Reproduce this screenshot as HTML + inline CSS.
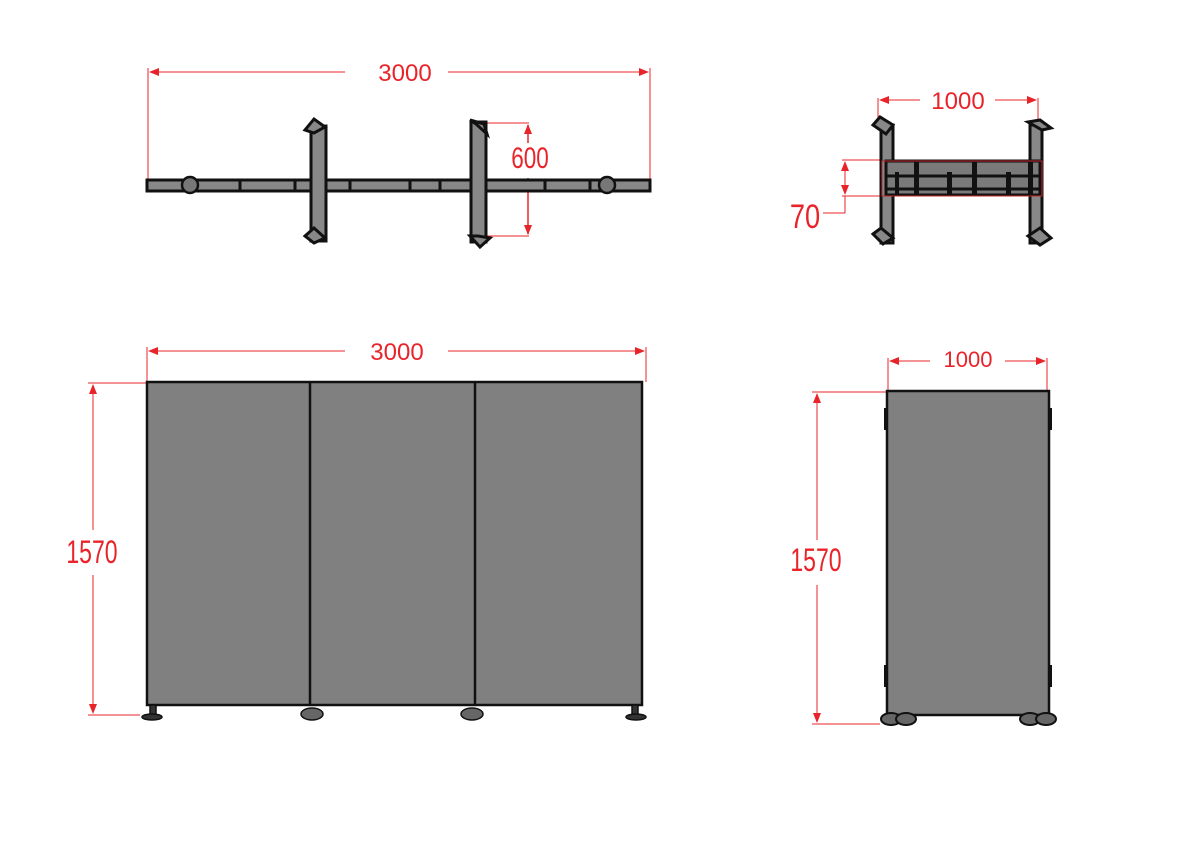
<!DOCTYPE html>
<html><head><style>html,body{margin:0;padding:0;background:#fff;}svg{display:block}</style></head>
<body>
<svg width="1191" height="842" viewBox="0 0 1191 842" xmlns="http://www.w3.org/2000/svg" font-family="Liberation Sans, sans-serif">
<defs>
<marker id="a" markerWidth="10" markerHeight="8" refX="9" refY="4" orient="auto" markerUnits="userSpaceOnUse"><path d="M0,0 L10,4 L0,8 z" fill="#e8242a"/></marker>
</defs>
<!-- TOP LEFT -->
<g stroke="#e8242a" stroke-width="1" fill="none">
<line x1="148" y1="68" x2="148" y2="180"/><line x1="650" y1="68" x2="650" y2="182"/>
<line x1="345" y1="72" x2="150" y2="72" marker-end="url(#a)"/>
<line x1="448" y1="72" x2="648" y2="72" marker-end="url(#a)"/>
<line x1="480" y1="123" x2="529" y2="123"/><line x1="480" y1="236" x2="529" y2="236"/>
<line x1="528" y1="143" x2="528" y2="125" marker-end="url(#a)" stroke-width="1.5"/>
<line x1="528" y1="178" x2="528" y2="234" marker-end="url(#a)" stroke-width="1.5"/>
</g>
<text x="405" y="81" fill="#e8242a" font-size="24" text-anchor="middle">3000</text>
<text x="530" y="168" fill="#e8242a" font-size="30" text-anchor="middle" transform="translate(530 0) scale(0.75 1) translate(-530 0)">600</text>
<rect x="147" y="180" width="503" height="11" fill="#888" stroke="#111" stroke-width="3"/>
<g stroke="#111" stroke-width="3"><line x1="240" y1="180" x2="240" y2="191"/><line x1="295" y1="180" x2="295" y2="191"/><line x1="350" y1="180" x2="350" y2="191"/><line x1="410" y1="180" x2="410" y2="191"/><line x1="440" y1="180" x2="440" y2="191"/><line x1="545" y1="180" x2="545" y2="191"/><line x1="590" y1="180" x2="590" y2="191"/></g>
<ellipse cx="190" cy="185" rx="8" ry="8" fill="#777" stroke="#111" stroke-width="2.5"/>
<ellipse cx="607" cy="185" rx="8" ry="8" fill="#777" stroke="#111" stroke-width="2.5"/>
<g fill="#888" stroke="#111" stroke-width="3">
<rect x="311" y="126" width="15" height="115"/>
<path d="M305,130 L314,119 L325,127 L314,133z"/><path d="M305,236 L314,228 L325,238 L314,243z"/>
<rect x="471" y="122" width="15" height="120"/>
<path d="M470,120 L484,124 L487,134 L476,124z"/><path d="M470,236 L480,247 L490,238 L478,236z"/>
</g>
<!-- TOP RIGHT -->
<g stroke="#e8242a" stroke-width="1" fill="none">
<line x1="878" y1="98" x2="878" y2="125"/><line x1="1038" y1="98" x2="1038" y2="125"/>
<line x1="920" y1="100" x2="880" y2="100" marker-end="url(#a)"/>
<line x1="995" y1="100" x2="1036" y2="100" marker-end="url(#a)"/>
<line x1="842" y1="160" x2="1043" y2="160"/><line x1="842" y1="196" x2="1043" y2="196"/>
<line x1="845" y1="178" x2="845" y2="162" marker-end="url(#a)"/>
<line x1="845" y1="178" x2="845" y2="194" marker-end="url(#a)"/>
<line x1="845" y1="196" x2="845" y2="213"/><line x1="823" y1="213" x2="845" y2="213"/>
</g>
<text x="958" y="109" fill="#e8242a" font-size="24" text-anchor="middle">1000</text>
<text x="805" y="228" fill="#e8242a" font-size="34" text-anchor="middle" transform="translate(805 0) scale(0.8 1) translate(-805 0)">70</text>
<g fill="#888" stroke="#111" stroke-width="3">
<rect x="881" y="125" width="12" height="118"/>
<path d="M873,125 L880,117 L893,125 L886,134z"/><path d="M873,234 L881,228 L893,238 L883,244z"/>
<rect x="1030" y="125" width="12" height="118"/>
<path d="M1028,122 L1040,120 L1051,128 L1042,130z"/><path d="M1028,236 L1040,228 L1051,238 L1040,245z"/>
<rect x="886" y="161" width="154" height="34" fill="#7a7a7a"/>
<line x1="886" y1="176" x2="1040" y2="176"/><line x1="886" y1="189" x2="1040" y2="189"/>
</g>
<g fill="#111"><rect x="914" y="160" width="5" height="35"/><rect x="972" y="160" width="5" height="35"/><rect x="1028" y="160" width="5" height="35"/><rect x="947" y="172" width="5" height="22"/><rect x="895" y="172" width="4" height="22"/><rect x="1006" y="172" width="5" height="22"/></g>
<rect x="882" y="161" width="160" height="35" fill="none" stroke="#c0282a" stroke-width="1"/>
<!-- BOTTOM LEFT -->
<g stroke="#e8242a" stroke-width="1" fill="none">
<line x1="147" y1="347" x2="147" y2="382"/><line x1="646" y1="347" x2="646" y2="382"/>
<line x1="345" y1="351" x2="149" y2="351" marker-end="url(#a)"/>
<line x1="448" y1="351" x2="644" y2="351" marker-end="url(#a)"/>
<line x1="88" y1="383" x2="147" y2="383"/><line x1="88" y1="715" x2="140" y2="715"/>
<line x1="93" y1="530" x2="93" y2="385" marker-end="url(#a)"/>
<line x1="93" y1="575" x2="93" y2="713" marker-end="url(#a)"/>
</g>
<text x="397" y="360" fill="#e8242a" font-size="24" text-anchor="middle">3000</text>
<text x="92" y="563" fill="#e8242a" font-size="32" text-anchor="middle" transform="translate(92 0) scale(0.72 1) translate(-92 0)">1570</text>
<rect x="147" y="382" width="495" height="323" fill="#808080" stroke="#111" stroke-width="2.5"/>
<g stroke="#111" stroke-width="2.5"><line x1="310" y1="382" x2="310" y2="705"/><line x1="475" y1="382" x2="475" y2="705"/></g>
<g fill="#333" stroke="#111" stroke-width="1.5">
<rect x="150" y="705" width="6" height="10"/><ellipse cx="152" cy="717" rx="10" ry="3"/>
<rect x="632" y="705" width="6" height="10"/><ellipse cx="636" cy="717" rx="10" ry="3"/>
<ellipse cx="312" cy="714" rx="11" ry="6" fill="#666"/>
<ellipse cx="472" cy="714" rx="11" ry="6" fill="#666"/>
</g>
<!-- BOTTOM RIGHT -->
<g stroke="#e8242a" stroke-width="1" fill="none">
<line x1="888" y1="358" x2="888" y2="390"/><line x1="1047" y1="358" x2="1047" y2="390"/>
<line x1="930" y1="361" x2="890" y2="361" marker-end="url(#a)"/>
<line x1="1005" y1="361" x2="1045" y2="361" marker-end="url(#a)"/>
<line x1="812" y1="392" x2="888" y2="392"/><line x1="812" y1="724" x2="880" y2="724"/>
<line x1="817" y1="540" x2="817" y2="394" marker-end="url(#a)"/>
<line x1="817" y1="585" x2="817" y2="722" marker-end="url(#a)"/>
</g>
<text x="968" y="367" fill="#e8242a" font-size="22" text-anchor="middle">1000</text>
<text x="816" y="571" fill="#e8242a" font-size="32" text-anchor="middle" transform="translate(816 0) scale(0.72 1) translate(-816 0)">1570</text>
<rect x="887" y="391" width="162" height="324" fill="#808080" stroke="#111" stroke-width="2.5"/>
<g fill="#111"><rect x="884" y="408" width="4" height="22"/><rect x="1048" y="408" width="4" height="22"/><rect x="884" y="665" width="4" height="22"/><rect x="1048" y="665" width="4" height="22"/></g>
<g fill="#666" stroke="#111" stroke-width="2">
<ellipse cx="891" cy="719" rx="10" ry="6"/><ellipse cx="906" cy="719" rx="10" ry="6"/>
<ellipse cx="1030" cy="719" rx="10" ry="6"/><ellipse cx="1046" cy="719" rx="10" ry="6"/>
</g>
</svg>
</body></html>
